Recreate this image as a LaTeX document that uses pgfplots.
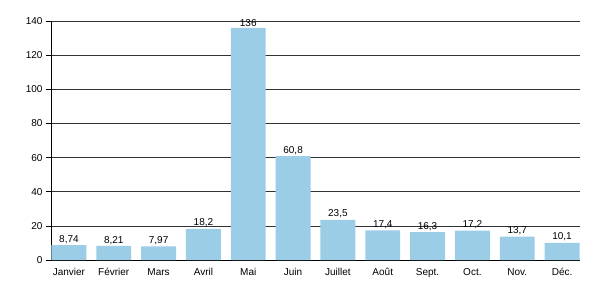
\documentclass[border=0pt]{standalone}
\usepackage{pgfplots}
\pgfplotsset{compat=1.18}
\usepackage{fontspec}
\setmainfont{Liberation Sans}
\definecolor{barblue}{HTML}{9BCDE7}
\begin{document}
\begin{tikzpicture}
\path[use as bounding box] (-51pt,-40pt) rectangle (549pt,260pt);
\begin{axis}[
  at={(0,0)}, anchor=south west,
  scale only axis, width=529pt, height=239pt,
  xmin=-0.4, xmax=11.4, ymin=0, ymax=140,
  ytick={0,20,...,140},
  xtick={0,...,11},
  xticklabels={Janvier,Février,Mars,Avril,Mai,Juin,Juillet,Août,Sept.,Oct.,Nov.,Déc.},
  axis x line*=bottom, axis y line*=left,
  axis line style={black, line width=0.8pt, -},
  x tick style={draw=none},
  y tick style={black, line width=0.6pt},
  tick align=outside, major tick length=5pt,
  ymajorgrids, grid style={black!80, line width=0.6pt},
  tick label style={font=\fontsize{10}{12}\selectfont},
  /pgf/number format/assume math mode=true,
  /pgf/number format/use comma,
  /pgf/number format/1000 sep={},
  ybar, bar width=0.78,
  nodes near coords,
  every node near coord/.append style={font=\fontsize{10}{12}\selectfont, inner sep=1.5pt},
]
\addplot[fill=barblue, draw=none] coordinates {
(0,8.74) (1,8.21) (2,7.97) (3,18.2) (4,136) (5,60.8) (6,23.5) (7,17.4) (8,16.3) (9,17.2) (10,13.7) (11,10.1)};
\end{axis}
\end{tikzpicture}
\end{document}
